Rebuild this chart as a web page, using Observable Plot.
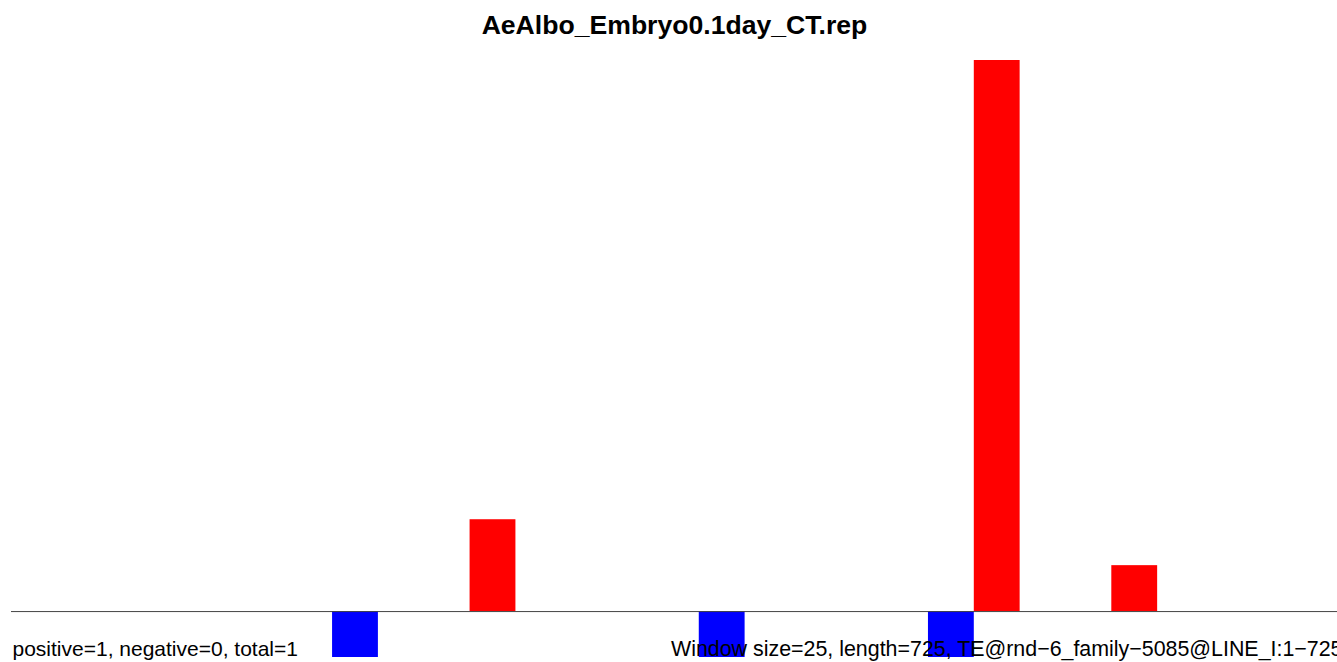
<!DOCTYPE html>
<html>
<head>
<meta charset="utf-8">
<script src="https://cdn.jsdelivr.net/npm/d3@7"></script>
<script src="https://cdn.jsdelivr.net/npm/@observablehq/plot@0.6"></script>
<style>
  html, body { margin: 0; padding: 0; background: #fff; overflow: hidden; }
  #chart svg { display: block; font-family: "Liberation Sans", Arial, sans-serif; }
</style>
</head>
<body>
<div id="chart"></div>
<script>
// Data
const title = "AeAlbo_Embryo0.1day_CT.rep";
const leftNote = "positive=1, negative=0, total=1";
const rightNote = "Window size=25, length=725, TE@rnd\u22126_family\u22125085@LINE_I:1\u2212725";
const windowSize = 25;
const seqLength = 725;
const windowStarts = [175, 250, 375, 500, 525, 600];
const windowValues = [-1, 2, -1, -1, 12, 1];

const bars = windowStarts.map((s, i) => ({start: s, end: s + windowSize, value: windowValues[i]}));

const chart = Plot.plot({
  width: 1337,
  height: 662,
  marginTop: 60,
  marginBottom: 5,
  marginLeft: 11,
  marginRight: 0,
  x: {domain: [0, seqLength], range: [11.2, 1340.5], axis: null},
  y: {domain: [-1, 12], axis: null},
  style: {background: "#fff", fontFamily: "Liberation Sans, Arial, sans-serif"},
  marks: [
    Plot.rectY(bars, {
      x1: "start", x2: "end", y1: 0, y2: "value",
      fill: d => d.value >= 0 ? "#FF0000" : "#0000FF",
      inset: 0
    }),
    Plot.ruleY([0], {stroke: "#444", strokeWidth: 1}),
    Plot.text([title], {
      frameAnchor: "top", lineAnchor: "bottom", dy: -27,
      fontSize: 26.6, fontWeight: "bold", fill: "#000"
    }),
    Plot.text([leftNote], {
      frameAnchor: "bottom-left", textAnchor: "start", lineAnchor: "bottom",
      dx: 1, dy: -2, fontSize: 21, fill: "#000"
    }),
    Plot.text([rightNote], {
      frameAnchor: "bottom-right", textAnchor: "end", lineAnchor: "bottom",
      dx: 5, dy: -2, fontSize: 21.4, fill: "#000"
    })
  ]
});
document.getElementById("chart").append(chart);
</script>
</body>
</html>
